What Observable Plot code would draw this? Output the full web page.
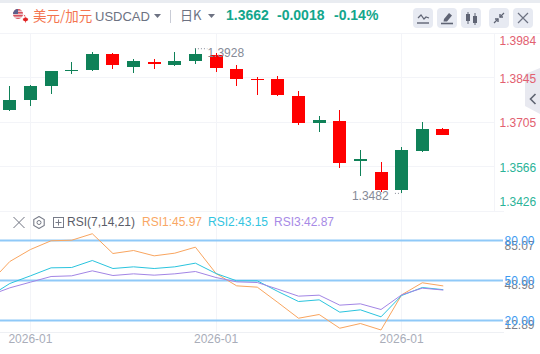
<!DOCTYPE html>
<html><head><meta charset="utf-8">
<script src="https://cdn.jsdelivr.net/npm/d3@7"></script>
<script src="https://cdn.jsdelivr.net/npm/@observablehq/plot@0.6"></script>
<style>
html,body{margin:0;padding:0;background:#fff;}
body{width:540px;height:354px;overflow:hidden;position:relative;font-family:"Liberation Sans",Arial,sans-serif;}
.abs{position:absolute;white-space:nowrap;line-height:16px;}
#band{position:absolute;left:0;top:0;width:540px;height:3px;background:#e9ecf1;}
#price,#rsi{position:absolute;left:0;}
#price{top:33px;}#rsi{top:211px;}
svg{display:block;}
.btn{position:absolute;top:8px;width:20px;height:20px;border-radius:4px;background:#e7eaf2;}
.btn svg{position:absolute;left:0;top:0;}
</style></head><body>
<div id="band"></div>
<svg class="abs" style="left:12px;top:8px" width="18" height="16" viewBox="0 0 18 16">
  <defs><clipPath id="c"><circle cx="6" cy="6" r="5"/></clipPath></defs>
  <g clip-path="url(#c)"><rect width="12" height="12" fill="#e9c5c8"/>
  <rect y="1" width="12" height="1.5" fill="#d9505d"/><rect y="4" width="12" height="1.5" fill="#d9505d"/><rect y="7" width="12" height="1.5" fill="#d9505d"/><rect y="10" width="12" height="1.5" fill="#d9505d"/>
  <rect width="6" height="6" fill="#5a5f8c"/></g>
  <path d="M12.5 7.5l1 2 1-.6-.3 2.2 1.3-.7.5 1 1.2-.2-.4 1.3.6.4-2.6 1.7.1 1h-.8l.1-1-2.6-1.7.6-.4-.4-1.3 1.2.2.5-1 1.3.7-.3-2.2z" fill="#e02020" transform="translate(-1 -1)"/>
</svg>
<div class="abs" style="left:33px;top:7px;font:13.5px/16px 'Noto Sans CJK SC';color:#f4744f">美元/加元</div>
<div class="abs" style="left:95px;top:9px;font-size:13px;color:#6d7282">USDCAD</div>
<svg class="abs" style="left:154px;top:14px" width="7" height="5"><path d="M0 0h7L3.5 4z" fill="#6d7282"/></svg>
<div class="abs" style="left:170px;top:10px;width:1px;height:13px;background:#c9ccd6"></div>
<div class="abs" style="left:180px;top:7px;font:13px/16px 'Noto Sans CJK SC';color:#6d7282">日K</div>
<svg class="abs" style="left:208px;top:14px" width="7" height="5"><path d="M0 0h7L3.5 4z" fill="#6d7282"/></svg>
<div class="abs" style="left:226px;top:7px;font-size:14px;font-weight:bold;color:#13a68c">1.3662</div>
<div class="abs" style="left:277px;top:7px;font-size:14px;font-weight:bold;color:#13a68c">-0.0018</div>
<div class="abs" style="left:334px;top:7px;font-size:14px;font-weight:bold;color:#13a68c">-0.14%</div>
<div class="btn" style="left:413px"><svg width="20" height="20"><path d="M5 10l3-3 3 4 2-2 3 1" fill="none" stroke="#5f6474" stroke-width="1.2"/><path d="M4 15h12" stroke="#5f6474" stroke-width="1.4"/></svg></div>
<div class="btn" style="left:437px"><svg width="20" height="20"><path d="M7 11l5-6 3 2.5-5 6H6.5z" fill="#5f6474"/><path d="M4 15.5h12" stroke="#5f6474" stroke-width="1.6"/></svg></div>
<div class="btn" style="left:461px"><svg width="20" height="20"><path d="M7 4v12M14 5v12" stroke="#5f6474"/><rect x="5" y="6" width="4" height="7" fill="#5f6474"/><rect x="12" y="8" width="4" height="7" fill="#5f6474"/></svg></div>
<div class="btn" style="left:489px"><svg width="20" height="20"><path d="M15 5l-4 4M5 15l4-4" stroke="#5f6474" stroke-width="1.2"/><path d="M11 6v3h3M9 14v-3H6" fill="none" stroke="#5f6474" stroke-width="1.4"/></svg></div>
<div class="btn" style="left:513px"><svg width="20" height="20"><path d="M5 5l10 10M15 5L5 15" stroke="#6d7282" stroke-width="1.2"/></svg></div>
<div class="abs" style="left:0;top:33px;width:540px;height:1px;background:#f3f4f8"></div>
<svg class="abs" style="left:525px;top:68px" width="15" height="46"><path d="M15 0L0 6V38L15 46z" fill="#e8e9f0"/><path d="M10.5 26l-5 5 5 5" fill="none" stroke="#5f6472" stroke-width="1.6"/></svg>
<div id="price"></div>
<div id="rsi"></div>
<svg class="abs" style="left:12px;top:216px" width="56" height="13" viewBox="0 0 56 13">
  <path d="M1.5 1l11 11M12.5 1l-11 11" stroke="#6e7280" stroke-width="1"/>
  <path d="M27 .5l5.2 3v6l-5.2 3-5.2-3v-6z" fill="none" stroke="#777b88" stroke-width="1.1"/><circle cx="27" cy="6.5" r="2" fill="none" stroke="#777b88"/>
  <rect x="41.5" y="1.5" width="10" height="10" fill="none" stroke="#777b88"/><path d="M46.5 3.5v6M43.5 6.5h6" stroke="#777b88"/>
</svg>
<div class="abs" style="left:67px;top:214px;font-size:12px;color:#5a5d68">RSI(7,14,21)</div>
<div class="abs" style="left:142px;top:214px;font-size:12px;color:#f9a764">RSI1:45.97</div>
<div class="abs" style="left:208px;top:214px;font-size:12px;color:#33c4df">RSI2:43.15</div>
<div class="abs" style="left:274px;top:214px;font-size:12px;color:#a78ae6">RSI3:42.87</div>
<script>
const candleIndex = d3.range(22);
const open  = [1.3741,1.3773,1.3817,1.3864,1.3867,1.3917,1.3876,1.3892,1.3883,1.3895,1.3914,1.3870,1.3839,1.3839,1.3785,1.3700,1.3707,1.3581,1.3546,1.3489,1.3612,1.3681];
const high  = [1.3817,1.3820,1.3864,1.3892,1.3924,1.3920,1.3902,1.3902,1.3924,1.3936,1.3920,1.3883,1.3845,1.3848,1.3801,1.3722,1.3741,1.3615,1.3578,1.3625,1.3703,1.3685];
const low   = [1.3738,1.3754,1.3792,1.3854,1.3864,1.3870,1.3858,1.3870,1.3880,1.3886,1.3861,1.3817,1.3788,1.3785,1.3694,1.3672,1.3559,1.3534,1.3483,1.3480,1.3609,1.3662];
const close = [1.3773,1.3817,1.3864,1.3866,1.3917,1.3883,1.3895,1.3886,1.3895,1.3917,1.3873,1.3839,1.3836,1.3788,1.3700,1.3710,1.3574,1.3587,1.3489,1.3615,1.3681,1.3662];
const priceTicks = [1.3984,1.3845,1.3705,1.3566,1.3426];
const rsiX = d3.range(-1,22);
const rsi1 = [47.75,64.25,73.25,79.8,80.2,85.07,70.25,72.5,68.5,70.5,75,55.25,46,45,33.5,21.7,24.5,14.2,17.75,12.89,39.25,48.3,45.97];
const rsi2 = [38,47.75,53.5,59.5,59.75,65,59,60.25,59,60.25,63,55.25,49.75,49.75,41.75,34.25,35.5,26.25,28,22.75,38.75,44.75,43.15];
const rsi3 = [38.75,44.5,48.75,53,53.5,57.25,53.75,55,54,55,56.75,52.25,49,48.5,43.5,38.25,39,31.5,32.5,28.25,39.25,44.25,42.87];
const rsiLevels = [80,50,20];
const rsiAxisValues = [85.07,48.98,12.89];
const dateTicks = [1,10,19];
const dateLabel = "2026-01";
const highLabel = "1.3928", lowLabel = "1.3482";

const GREEN="#0f8158", RED="#ff0000", GRID="#f3f4f8", GRAY="#858a97";
const candles = candleIndex.map(i=>({i,open:open[i],high:high[i],low:low[i],close:close[i],c:close[i]>=open[i]?GREEN:RED}));
const xScale = {type:"linear",domain:[-1,22],range:[-11.3,463]};
const base = {width:540,marginLeft:0,marginTop:0,style:{background:"transparent",fontFamily:"'Liberation Sans',Arial,sans-serif",fontSize:"12px",overflow:"hidden"}};
const hiIdx = 9, loIdx = 19;

const pricePlot = Plot.plot({...base,height:178,marginRight:46,marginBottom:0,
  x:{...xScale,axis:null},
  y:{domain:[1.3426,1.3984],range:[177,0],axis:null},
  marks:[
    Plot.frame({anchor:"right",stroke:GRID}),
    Plot.ruleY(priceTicks.slice(1,4),{stroke:GRID,strokeWidth:1,shapeRendering:"crispEdges"}),
    Plot.ruleX(dateTicks,{stroke:GRID,strokeWidth:1,shapeRendering:"crispEdges"}),
    Plot.ruleX(candles,{x:"i",y1:"low",y2:"high",stroke:"c",strokeWidth:1,shapeRendering:"crispEdges"}),
    Plot.ruleX(candles,{x:"i",y1:"open",y2:"close",stroke:"c",strokeWidth:13,shapeRendering:"crispEdges"}),
    Plot.ruleY([high[hiIdx]],{x1:hiIdx,x2:hiIdx+0.6,stroke:GRAY,strokeDasharray:"1 2"}),
    Plot.ruleY([low[loIdx]],{x1:loIdx-0.3,x2:loIdx,stroke:GRAY,strokeDasharray:"1 2"}),
    Plot.text([highLabel],{x:hiIdx,y:high[hiIdx],text:d=>d,textAnchor:"start",dx:12,dy:4,fill:GRAY,fontSize:12}),
    Plot.text([lowLabel],{x:loIdx,y:low[loIdx],text:d=>d,textAnchor:"end",dx:-13,dy:3,fill:GRAY,fontSize:12}),
    Plot.text(priceTicks.slice(0,1),{y:d=>d,text:d=>d.toFixed(4),frameAnchor:"right",textAnchor:"start",dx:5,dy:8,fill:"#e2606f",fontSize:12}),
    Plot.text(priceTicks.slice(1,3),{y:d=>d,text:d=>d.toFixed(4),frameAnchor:"right",textAnchor:"start",dx:5,dy:1.5,fill:"#e2606f",fontSize:12}),
    Plot.text(priceTicks.slice(3,4),{y:d=>d,text:d=>d.toFixed(4),frameAnchor:"right",textAnchor:"start",dx:5,dy:2,fill:"#2bb398",fontSize:12}),
    Plot.text(priceTicks.slice(4),{y:d=>d,text:d=>d.toFixed(4),frameAnchor:"right",textAnchor:"start",dx:5,dy:-8,fill:"#2bb398",fontSize:12})
  ]});
document.getElementById("price").append(pricePlot);

const rsiPlot = Plot.plot({...base,height:143,marginRight:37,marginBottom:22,
  x:{...xScale},
  y:{domain:[20,80],range:[109,29],axis:null},
  marks:[
    Plot.frame({anchor:"top",stroke:GRID}),
    Plot.frame({anchor:"bottom",stroke:"#eef0f4"}),
    Plot.ruleX(dateTicks,{stroke:GRID,strokeWidth:1,shapeRendering:"crispEdges"}),
    Plot.ruleY(rsiLevels,{stroke:"#8fc9f8",strokeWidth:2}),
    Plot.line(rsiX,{x:d=>d,y:(d,i)=>rsi1[i],stroke:"#f9a55f",strokeWidth:1}),
    Plot.line(rsiX,{x:d=>d,y:(d,i)=>rsi2[i],stroke:"#2ac4de",strokeWidth:1}),
    Plot.line(rsiX,{x:d=>d,y:(d,i)=>rsi3[i],stroke:"#a285e5",strokeWidth:1}),
    Plot.axisX(dateTicks,{tickSize:0,tickPadding:2,tickFormat:()=>dateLabel,fill:"#a9adb9",fontSize:12,label:null}),
    Plot.text(rsiAxisValues.slice(0,1),{y:()=>80,text:d=>d.toFixed(2),frameAnchor:"right",textAnchor:"start",dx:1,dy:5.5,fill:"#7b7f8a",fontSize:12}),
    Plot.text(rsiAxisValues.slice(1,2),{y:()=>50,text:d=>d.toFixed(2),frameAnchor:"right",textAnchor:"start",dx:1,dy:5,fill:"#7b7f8a",fontSize:12}),
    Plot.text(rsiAxisValues.slice(2),{y:()=>20,text:d=>d.toFixed(2),frameAnchor:"right",textAnchor:"start",dx:1,dy:4.5,fill:"#7b7f8a",fontSize:12}),
    Plot.text(rsiLevels,{y:d=>d,text:d=>d.toFixed(2),frameAnchor:"right",textAnchor:"start",dx:1,dy:0.5,fill:"#3d9af0",fontSize:12})
  ]});
document.getElementById("rsi").append(rsiPlot);
</script>
</body></html>
